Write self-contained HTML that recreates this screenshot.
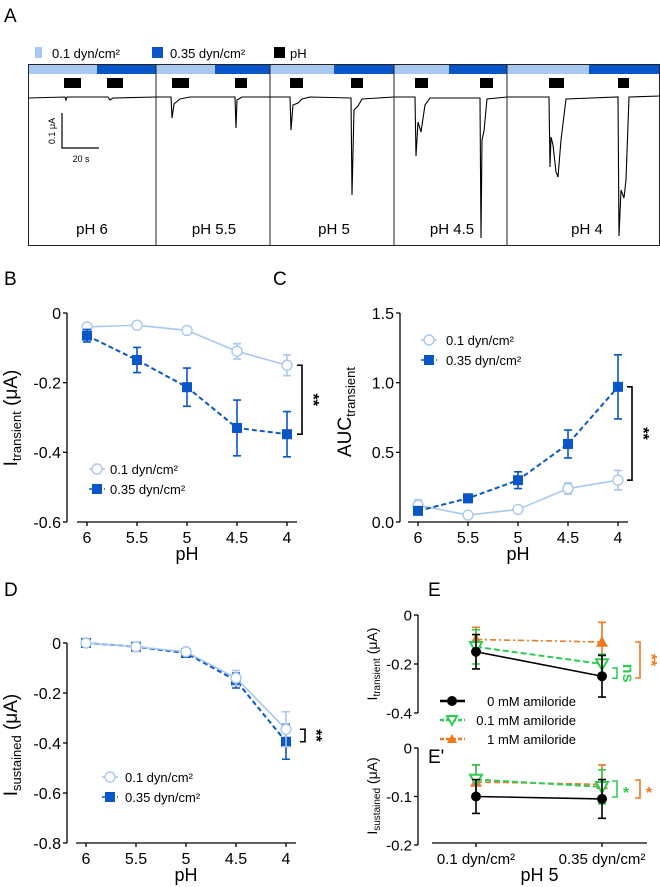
<!DOCTYPE html>
<html><head><meta charset="utf-8"><style>
html,body{margin:0;padding:0;background:#fff}
svg{display:block;font-family:"Liberation Sans",sans-serif}
</style></head><body>
<svg id="fig" width="660" height="887" viewBox="0 0 660 887" xmlns="http://www.w3.org/2000/svg">
<g>
<text x="4" y="22" font-size="19">A</text>
<rect x="35" y="47" width="7" height="11" fill="#a9c8f0"/>
<text x="52" y="58" font-size="13">0.1 dyn/cm²</text>
<rect x="152" y="47" width="11" height="11" fill="#0a55c8"/>
<text x="170" y="58" font-size="13">0.35 dyn/cm²</text>
<rect x="274" y="47" width="11" height="11" fill="#000"/>
<text x="290" y="58" font-size="13">pH</text>
<g>
<rect x="28" y="65" width="69" height="9" fill="#a9c8f0"/><rect x="97" y="65" width="59" height="9" fill="#0a55c8"/>
<rect x="156" y="65" width="59" height="9" fill="#a9c8f0"/><rect x="215" y="65" width="55" height="9" fill="#0a55c8"/>
<rect x="270" y="65" width="64" height="9" fill="#a9c8f0"/><rect x="334" y="65" width="60" height="9" fill="#0a55c8"/>
<rect x="394" y="65" width="55" height="9" fill="#a9c8f0"/><rect x="449" y="65" width="58" height="9" fill="#0a55c8"/>
<rect x="507" y="65" width="82" height="9" fill="#a9c8f0"/><rect x="589" y="65" width="71" height="9" fill="#0a55c8"/>
</g>
<g fill="#000">
<rect x="64" y="78" width="17" height="10"/><rect x="107" y="78" width="16" height="10"/>
<rect x="172" y="78" width="17" height="10"/><rect x="235" y="78" width="12" height="10"/>
<rect x="290" y="78" width="13" height="10"/><rect x="351" y="78" width="12" height="10"/>
<rect x="415" y="78" width="13" height="10"/><rect x="480" y="78" width="13" height="10"/>
<rect x="549" y="78" width="15" height="10"/><rect x="618" y="78" width="11" height="10"/>
</g>
<path fill="none" stroke="#000" stroke-width="1.1"
d="M28,98 L65,97 L66,100 L67,97 L108,97 L110,100 L113,98 L156,97 L171,97 L172,118 L174,104 L180,99 L190,97 L235,97 L236,128 L237,100 L242,97 L270,97 L290,97 L291,130 L293,105 L298,103 L302,99 L310,97 L351,98 L352,195 L354,110 L358,106 L362,99 L394,97 L415,97 L416,156 L418,122 L421,132 L425,105 L430,98 L480,98 L481,238 L482,140 L484,131 L487,99 L507,97 L549,97 L550,167 L551,137 L553,145 L556,172 L558,177 L561,140 L566,99 L618,97 L619,236 L621,190 L624,198 L626,180 L629,97 L660,96"/>
<g fill="none" stroke="#222" stroke-width="1">
<rect x="28.5" y="64.5" width="631" height="181"/>
<line x1="156" y1="64" x2="156" y2="245"/><line x1="270" y1="64" x2="270" y2="245"/>
<line x1="394" y1="64" x2="394" y2="245"/><line x1="507" y1="64" x2="507" y2="245"/>
</g>
<g>
<path d="M62,113 L62,148 L99,148" fill="none" stroke="#000" stroke-width="1.2"/>
<text x="0" y="0" font-size="9" transform="translate(55,131) rotate(-90)" text-anchor="middle">0.1 μA</text>
<text x="81" y="162" font-size="9" text-anchor="middle">20 s</text>
</g>
<g font-size="15" text-anchor="middle">
<text x="92" y="234">pH 6</text><text x="214" y="234">pH 5.5</text><text x="334" y="234">pH 5</text>
<text x="452" y="234">pH 4.5</text><text x="587" y="234">pH 4</text>
</g>
</g>
<text x="4" y="285" font-size="19">B</text>
<text x="273" y="285" font-size="19">C</text>
<text x="4" y="596" font-size="19">D</text>
<text x="428" y="596" font-size="19">E</text>
<text x="428" y="763" font-size="19">E'</text>
</svg>
<script>
// ---- data ----
const phCats = ["6","5.5","5","4.5","4"];
const bLight = [-0.04,-0.035,-0.05,-0.11,-0.15];
const bLightErr = [0.008,0.006,0.008,0.022,0.03];
const bDark = [-0.065,-0.135,-0.213,-0.33,-0.348];
const bDarkErr = [0.018,0.036,0.055,0.08,0.065];
const bTicks = [0,-0.2,-0.4,-0.6];
const bTickLabels = ["0","-0.2","-0.4","-0.6"];
const cLight = [0.12,0.05,0.09,0.24,0.30];
const cLightErr = [0.04,0.01,0.01,0.04,0.07];
const cDark = [0.08,0.17,0.30,0.56,0.97];
const cDarkErr = [0.02,0.03,0.06,0.10,0.23];
const cTicks = [0,0.5,1.0,1.5];
const cTickLabels = ["0.0","0.5","1.0","1.5"];
const dLight = [0,-0.015,-0.035,-0.14,-0.345];
const dLightErr = [0.008,0.01,0.01,0.03,0.07];
const dDark = [0,-0.015,-0.04,-0.15,-0.395];
const dDarkErr = [0.008,0.01,0.01,0.03,0.07];
const dTicks = [0,-0.2,-0.4,-0.6,-0.8];
const dTickLabels = ["0","-0.2","-0.4","-0.6","-0.8"];
const eCats = ["0.1 dyn/cm²","0.35 dyn/cm²"];
const eBlack = [-0.15,-0.25];
const eBlackErr = [0.07,0.085];
const eGreen = [-0.13,-0.20];
const eGreenErr = [0.07,0.04];
const eOrange = [-0.10,-0.11];
const eOrangeErr = [0.05,0.08];
const eTicks = [0,-0.2,-0.4];
const eTickLabels = ["0","-0.2","-0.4"];
const epBlack = [-0.10,-0.105];
const epBlackErr = [0.035,0.04];
const epGreen = [-0.065,-0.08];
const epGreenErr = [0.03,0.035];
const epOrange = [-0.07,-0.075];
const epOrangeErr = [0.035,0.04];
const epTicks = [0,-0.1,-0.2];
const epTickLabels = ["0","-0.1","-0.2"];

const NS="http://www.w3.org/2000/svg";
const svg=document.getElementById('fig');
function mk(tag,attrs,parent){const e=document.createElementNS(NS,tag);for(const k in attrs)e.setAttribute(k,attrs[k]);(parent||svg).appendChild(e);return e;}
const LIGHT="#a9c8f0",DARK="#0a55c8",GREEN="#2ecc55",ORANGE="#f07820";

function lin(d0,d1,r0,r1){return v=>r0+(v-d0)/(d1-d0)*(r1-r0);}

function axes(g,o){
  const fs=o.tickFont||16;
  const ya=mk('line',{x1:o.ax,y1:o.yTop,x2:o.ax,y2:o.yBot,stroke:'#000','stroke-width':1.3},g);
  
  
  o.ticks.forEach((t,i)=>{
    const y=o.y(t);
    mk('line',{x1:o.ax-4,y1:y,x2:o.ax,y2:y,stroke:'#000','stroke-width':1.3},g);
    const tx=mk('text',{x:o.ax-6,y:y+fs*0.36,'font-size':fs,'text-anchor':'end'},g);
    tx.textContent=o.tickLabels[i];
    
    
  });
  if(o.xAxis){
    const xa=mk('line',{x1:o.xa0,y1:o.xy,x2:o.xa1,y2:o.xy,stroke:'#000','stroke-width':1.3},g);
    
    
    o.cats.forEach((c,i)=>{
      const x=o.x(i);
      mk('line',{x1:x,y1:o.xy,x2:x,y2:o.xy+4,stroke:'#000','stroke-width':1.3},g);
      const tx=mk('text',{x:x,y:o.xy+21,'font-size':o.catFont||16,'text-anchor':'middle'},g);
      tx.textContent=c;
      
      
    });
    const xt=mk('text',{x:(o.xa0+o.xa1)/2,y:o.xy+38,'font-size':18,'text-anchor':'middle'},g);
    xt.textContent=o.xTitle;
    
    
  }
}
function marker(g,type,x,y,color,s){
  let m;
  if(type==='circle') m=mk('circle',{cx:x,cy:y,r:s,fill:'#fff',stroke:color,'stroke-width':1.4},g);
  else if(type==='square') m=mk('rect',{x:x-s,y:y-s,width:2*s,height:2*s,fill:color},g);
  else if(type==='dot') m=mk('circle',{cx:x,cy:y,r:s,fill:color},g);
  else if(type==='tridown') m=mk('polygon',{points:`${x-s},${y-s*0.8} ${x+s},${y-s*0.8} ${x},${y+s}`,fill:'#fff',stroke:color,'stroke-width':2},g);
  else m=mk('polygon',{points:`${x-s},${y+s*0.8} ${x+s},${y+s*0.8} ${x},${y-s}`,fill:color},g);
  return m;
}
function series(g,o,vals,errs,color,dash,mtype,ms,name,lw){
  const pts=vals.map((v,i)=>[o.x(i),o.y(v)]);
  const ln=mk('polyline',{points:pts.map(p=>p.join(',')).join(' '),fill:'none',stroke:color,'stroke-width':lw||1.6,'stroke-dasharray':dash},g);
  
  
  vals.forEach((v,i)=>{
    const x=o.x(i),y1=o.y(v+errs[i]),y2=o.y(v-errs[i]);
    const e=mk('path',{d:`M${x},${y1}V${y2}M${x-4},${y1}h8M${x-4},${y2}h8`,stroke:color,'stroke-width':1.6,fill:'none'},g);
    
    
    const m=marker(g,mtype,x,o.y(v),color,ms);
    
    
  });
}
function legend2(g,x,y,tx){
  mk('line',{x1:x-8,y1:y,x2:x+8,y2:y,stroke:LIGHT,'stroke-width':1.6},g);
  marker(g,'circle',x,y,LIGHT,5);
  const t1=mk('text',{x:tx,y:y+5,'font-size':13},g);t1.textContent='0.1 dyn/cm²';
  
  
  mk('line',{x1:x-8,y1:y+20,x2:x+8,y2:y+20,stroke:DARK,'stroke-width':1.6,'stroke-dasharray':'3,2'},g);
  marker(g,'square',x,y+20,DARK,5);
  const t2=mk('text',{x:tx,y:y+25,'font-size':13},g);t2.textContent='0.35 dyn/cm²';
  
  
}
function bracket(g,x,y1,y2,color,label,rot,name){
  const p=mk('path',{d:`M${x-5},${y1}H${x}V${y2}H${x-5}`,fill:'none',stroke:color,'stroke-width':1.6},g);
  
  
  const t=mk('text',{'font-size':16,'font-weight':'bold',fill:color,'text-anchor':'middle',transform:rot?`translate(${x+6},${(y1+y2)/2}) rotate(90)`:`translate(${x+9},${(y1+y2)/2+9})`},g);
  t.textContent=label;
  
  
}

// Panel B
(function(){
  const g=mk('g',{});
  const o={name:'b',ax:67,yTop:313,yBot:522,y:lin(0,-0.6,313,522),ticks:bTicks,tickLabels:bTickLabels,
    xAxis:true,xa0:77,xa1:297,xy:522,cats:phCats,xTitle:'pH'};
  o.x=(i=>87+i*50);
  axes(g,o);
  series(g,o,bLight,bLightErr,LIGHT,'none','circle',5,'b-light');
  series(g,o,bDark,bDarkErr,DARK,'5,3','square',5,'b-dark',2);
  bracket(g,302,o.y(bLight[4]),o.y(bDark[4]),'#000','**',true,'b-significance');
  legend2(g,97,469,110);
  const t=mk('text',{transform:'translate(17,418) rotate(-90)','font-size':19,'text-anchor':'middle'},g);
  
  t.innerHTML='I<tspan font-size="13" dy="4">transient</tspan><tspan dy="-4"> (μA)</tspan>';
})();
// Panel C
(function(){
  const g=mk('g',{});
  const o={name:'c',ax:400,yTop:313,yBot:522,y:lin(0,1.5,522,313),ticks:cTicks,tickLabels:cTickLabels,
    xAxis:true,xa0:408,xa1:628,xy:522,cats:phCats,xTitle:'pH'};
  o.x=(i=>418+i*50);
  axes(g,o);
  series(g,o,cLight,cLightErr,LIGHT,'none','circle',5,'c-light');
  series(g,o,cDark,cDarkErr,DARK,'5,3','square',5,'c-dark',2);
  bracket(g,632,o.y(cDark[4]),o.y(cLight[4]),'#000','**',true,'c-significance');
  legend2(g,429,340,446);
  const t=mk('text',{transform:'translate(351,412) rotate(-90)','font-size':19,'text-anchor':'middle'},g);
  
  t.innerHTML='AUC<tspan font-size="13" dy="4">transient</tspan>';
})();
// Panel D
(function(){
  const g=mk('g',{});
  const o={name:'d',ax:67,yTop:643,yBot:843,y:lin(0,-0.8,643,843),ticks:dTicks,tickLabels:dTickLabels,
    xAxis:true,xa0:76,xa1:296,xy:843,cats:phCats,xTitle:'pH'};
  o.x=(i=>86+i*50);
  axes(g,o);
  series(g,o,dDark,dDarkErr,DARK,'5,3','square',5,'d-dark',2);
  series(g,o,dLight,dLightErr,LIGHT,'none','circle',5,'d-light');
  bracket(g,305,o.y(dLight[4]),o.y(dDark[4]),'#000','**',true,'d-significance');
  legend2(g,110,777,125);
  const t=mk('text',{transform:'translate(17,745) rotate(-90)','font-size':19,'text-anchor':'middle'},g);
  
  t.innerHTML='I<tspan font-size="13" dy="4">sustained</tspan><tspan dy="-4"> (μA)</tspan>';
})();
// Panel E and E'
(function(){
  const g=mk('g',{});
  const xf=(i=>476+i*126);
  const o={name:'e',ax:418,yTop:615,yBot:713,y:lin(0,-0.4,615,713),ticks:eTicks,tickLabels:eTickLabels,xAxis:false,x:xf,tickFont:15};
  axes(g,o);
  series(g,o,eOrange,eOrangeErr,ORANGE,'6,3,2,3','tri',6,'e-orange');
  series(g,o,eGreen,eGreenErr,GREEN,'6,3','tridown',6,'e-green',2);
  series(g,o,eBlack,eBlackErr,'#000','none','dot',5,'e-black');
  bracket(g,617,o.y(eGreen[1])+4,o.y(eBlack[1])+2,GREEN,'ns',true,'e-ns-bracket');
  bracket(g,640,642,678,ORANGE,'**',true,'e-orange-significance');
  const t=mk('text',{transform:'translate(377,664) rotate(-90)','font-size':14,'text-anchor':'middle'},g);
  
  t.innerHTML='I<tspan font-size="10" dy="3">transient</tspan><tspan dy="-3"> (μA)</tspan>';
  const lg=[['#000','none','dot','0 mM amiloride'],[GREEN,'4,2','tridown','0.1 mM amiloride'],[ORANGE,'4,2','tri','1 mM amiloride']];
  lg.forEach((L,i)=>{
    const y=701+i*19;
    mk('line',{x1:440,y1:y,x2:465,y2:y,stroke:L[0],'stroke-width':2.5,'stroke-dasharray':L[1]},g);
    marker(g,L[2],452,y,L[0],5);
    const tx=mk('text',{x:576,y:y+5,'font-size':13,'text-anchor':'end'},g);tx.textContent=L[3];
    
    
  });
  const g2=mk('g',{});
  const o2={name:'ep',ax:418,yTop:748,yBot:845,y:lin(0,-0.2,748,845),ticks:epTicks,tickLabels:epTickLabels,
    xAxis:true,xa0:432,xa1:647,xy:843,cats:eCats,xTitle:'pH 5',catFont:15,x:xf,tickFont:15};
  axes(g2,o2);
  series(g2,o2,epOrange,epOrangeErr,ORANGE,'6,3','tri',6,'ep-orange');
  series(g2,o2,epGreen,epGreenErr,GREEN,'6,3','tridown',6,'ep-green',2);
  series(g2,o2,epBlack,epBlackErr,'#000','none','dot',5,'ep-black');
  bracket(g2,617,781,797,GREEN,'*',false,'ep-green-significance');
  bracket(g2,640,780,798,ORANGE,'*',false,'ep-orange-significance');
  const t2=mk('text',{transform:'translate(377,796) rotate(-90)','font-size':14,'text-anchor':'middle'},g2);
  
  t2.innerHTML='I<tspan font-size="10" dy="3">sustained</tspan><tspan dy="-3"> (μA)</tspan>';
})();
</script>
</body></html>
